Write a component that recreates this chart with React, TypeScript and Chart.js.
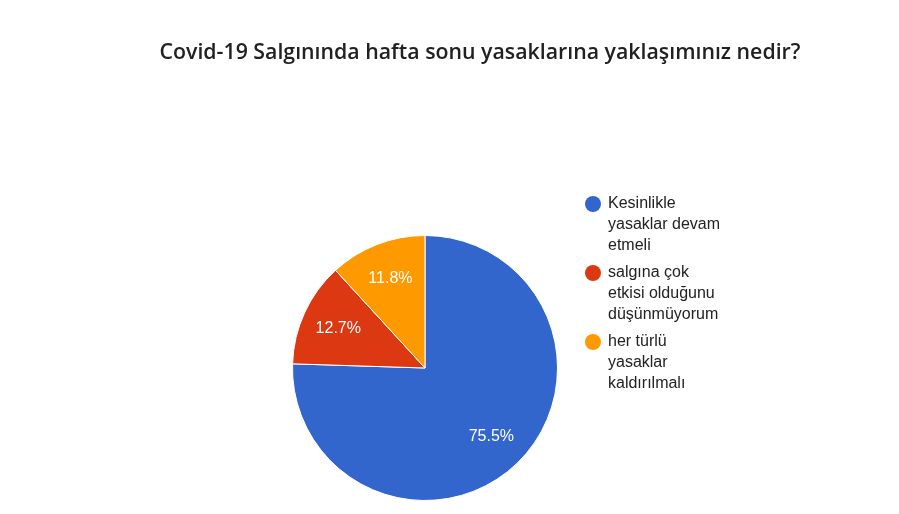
import React, { useEffect, useRef } from 'react';
import { Chart, ArcElement, PieController } from 'chart.js';

Chart.register(ArcElement, PieController);

const chartTitle = 'Covid-19 Salgınında hafta sonu yasaklarına yaklaşımınız nedir?';
const categories = [
  'Kesinlikle yasaklar devam etmeli',
  'salgına çok etkisi olduğunu düşünmüyorum',
  'her türlü yasaklar kaldırılmalı',
];
// legend text as wrapped in the original
const legendLines = [
  ['Kesinlikle', 'yasaklar devam', 'etmeli'],
  ['salgına çok', 'etkisi olduğunu', 'düşünmüyorum'],
  ['her türlü', 'yasaklar', 'kaldırılmalı'],
];
const shares = [75.5, 12.7, 11.8];
const sliceColors = ['#3366cc', '#dc3912', '#ff9900'];

const textFont = "Arial, 'Liberation Sans', sans-serif";

const overlayPlugin = {
  id: 'overlay',
  afterDraw(chart: Chart) {
    const { ctx, chartArea } = chart;
    ctx.save();

    // title
    ctx.fillStyle = '#212121';
    ctx.font = "600 21.3px 'Open Sans', sans-serif";
    ctx.textAlign = 'center';
    ctx.textBaseline = 'alphabetic';
    ctx.fillText(chartTitle, 480, 59);

    // percentage labels inside the slices
    const meta = chart.getDatasetMeta(0);
    const total = shares.reduce((a, b) => a + b, 0);
    ctx.font = `16px ${textFont}`;
    ctx.fillStyle = '#ffffff';
    ctx.textBaseline = 'middle';
    meta.data.forEach((arc: any, i: number) => {
      const { x, y, startAngle, endAngle, outerRadius } = arc.getProps(
        ['x', 'y', 'startAngle', 'endAngle', 'outerRadius'],
        true
      );
      const mid = (startAngle + endAngle) / 2;
      const r = outerRadius * 0.72;
      const pct = ((shares[i] / total) * 100).toFixed(1) + '%';
      ctx.fillText(pct, x + Math.cos(mid) * r, y + Math.sin(mid) * r);
    });

    // legend
    const lx = chartArea.right + 35;
    let base = 208;
    ctx.textAlign = 'left';
    ctx.textBaseline = 'alphabetic';
    legendLines.forEach((lines, i) => {
      ctx.fillStyle = sliceColors[i];
      ctx.beginPath();
      ctx.arc(lx, base - 4, 8, 0, Math.PI * 2);
      ctx.fill();
      ctx.fillStyle = '#222222';
      lines.forEach((line, j) => {
        ctx.fillText(line, lx + 15, base + j * 21);
      });
      base += lines.length * 21 + 6;
    });

    ctx.restore();
  },
};

const App: React.FC = () => {
  const chartRef = useRef<HTMLCanvasElement>(null);
  const chartInstance = useRef<Chart | null>(null);

  useEffect(() => {
    document.body.style.margin = '0';
    if (!chartRef.current) return;
    const ctx = chartRef.current.getContext('2d');
    if (!ctx) return;

    if (chartInstance.current) {
      chartInstance.current.destroy();
      chartInstance.current = null;
    }

    chartInstance.current = new Chart(ctx, {
      type: 'pie',
      data: {
        labels: categories,
        datasets: [
          {
            data: shares,
            backgroundColor: sliceColors,
            borderColor: '#ffffff',
            borderWidth: 1,
          },
        ],
      },
      options: {
        animation: false,
        responsive: true,
        maintainAspectRatio: false,
        layout: {
          padding: { left: 292, right: 341, top: 235, bottom: 13 },
        },
        plugins: {
          legend: { display: false },
          tooltip: { enabled: false },
        },
      },
      plugins: [overlayPlugin],
    });

    return () => {
      if (chartInstance.current) {
        chartInstance.current.destroy();
        chartInstance.current = null;
      }
    };
  }, []);

  return (
    <div style={{ position: 'relative', width: 899, height: 514, background: '#fff' }}>
      <canvas ref={chartRef}></canvas>
    </div>
  );
};

export default App;
